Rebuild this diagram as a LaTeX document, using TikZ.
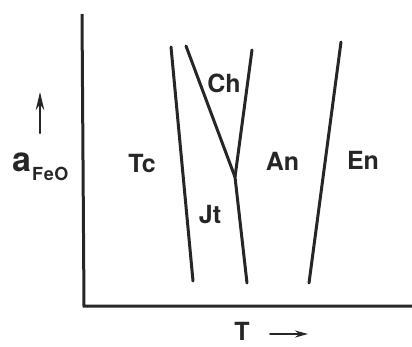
\documentclass[tikz,border=0pt]{standalone}
\usepackage{fontspec}
\setmainfont{TeX Gyre Heros}
\usepackage{tikz}
\usetikzlibrary{arrows.meta, positioning}
\definecolor{ink}{HTML}{262626}

\begin{document}
\begin{tikzpicture}[x=1pt, y=-1pt, line cap=round,
    phase/.style={draw=ink, line width=3pt},
    field/.style={text=ink, font=\fontsize{25}{25}\selectfont\bfseries, inner sep=0pt}]
  \useasboundingbox (0,0) rectangle (412,346);
  % Axes
  \coordinate (top) at (82,14);
  \coordinate (origin) at (84,306);
  \coordinate (right) at (414,306);
  \draw[ink, line width=3pt, line cap=butt] (top) -- (origin) -- (right);
  % Phase boundaries
  \coordinate (tc1) at (171,47);
  \coordinate (tc2) at (193,281);
  \coordinate (ch1) at (186,46);
  \coordinate (ch2) at (252,50);
  \coordinate (jn) at (235,177);
  \coordinate (jt2) at (247,283);
  \coordinate (en1) at (341,42);
  \coordinate (en2) at (309,283);
  \draw[phase] (tc1) -- (tc2);
  \draw[phase] (ch1) -- (jn);
  \draw[phase] (ch2) -- (jn) -- (jt2);
  \draw[phase] (en1) -- (en2);
  % Fields
  \node[field] (tc) at (142,163) {Tc};
  \node[field] (ch) at (224,83) {Ch};
  \node[field] (jt) at (210,214.5) {Jt};
  \node[field] (an) at (282.5,161) {An};
  \node[field] (en) at (363,160) {En};
  % Axis labels
  \node[text=ink, font=\fontsize{34}{34}\selectfont\bfseries, inner sep=0pt,
        anchor=base west] (afeo) at (12,171) {a};
  \node[text=ink, font=\fontsize{18}{18}\selectfont\bfseries, inner sep=0pt,
        anchor=base west] (feo) at (32,180) {F\kern0.6pt e\kern0.6pt O};
  \coordinate (up1) at (40,133);
  \coordinate (up2) at (40,92);
  \draw[ink, line width=2.4pt, -{Stealth[length=18pt, width=8.5pt]}] (up1) -- (up2);
  \node[field, anchor=base] (temp) at (242,340) {T};
  \coordinate (rt1) at (270,334);
  \coordinate (rt2) at (308,334);
  \draw[ink, line width=2pt, -{Stealth[length=13pt, width=7pt]}] (rt1) -- (rt2);
\end{tikzpicture}
\end{document}
